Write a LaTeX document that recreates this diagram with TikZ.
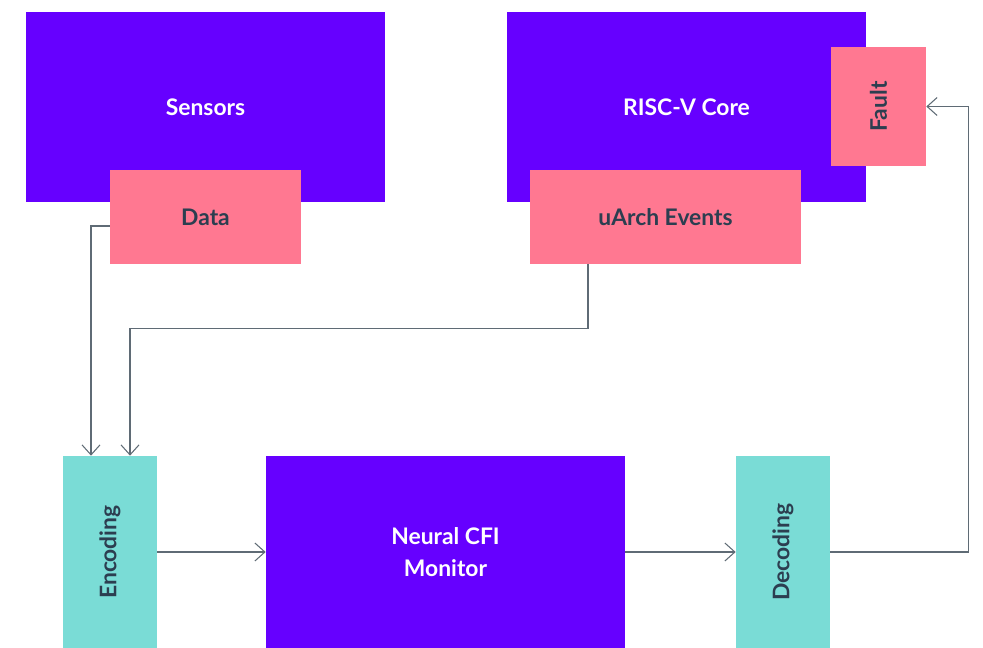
\documentclass[tikz,border=0pt]{standalone}
\usepackage{fontspec}
\setmainfont{Lato}
\usepackage{tikz}
\usetikzlibrary{arrows.meta,positioning,calc}
\definecolor{corepurple}{RGB}{102,0,255}
\definecolor{ifpink}{RGB}{255,120,145}
\definecolor{codecteal}{RGB}{122,220,214}
\definecolor{inkgray}{RGB}{44,62,80}
\definecolor{wiregray}{RGB}{95,107,117}

\begin{document}
\begin{tikzpicture}[x=0.02cm, y=-0.02cm, font=\fontsize{13}{16}\selectfont\bfseries]
  \tikzstyle{block} = [rectangle, fill=corepurple, text=white, minimum width=7.18cm, minimum height=3.8cm, align=center, inner sep=0pt]
  \tikzstyle{port} = [rectangle, fill=ifpink, text=inkgray, minimum height=1.88cm, align=center, inner sep=0pt]
  \tikzstyle{codec} = [rectangle, fill=codecteal, text=inkgray, minimum width=1.88cm, minimum height=3.84cm, inner sep=0pt]
  \tikzstyle{wire} = [draw=wiregray, line width=0.6pt, -{Straight Barb[length=0.2cm, width=0.36cm]}]

  \useasboundingbox (0,0) rectangle (983,648);

  % top row: sources
  \node[block] (sensors) at (205.5, 107) {Sensors};
  \node[port, minimum width=3.82cm] (data) at (205.5, 217) {Data};
  \node[block] (core) at (686.5, 107) {RISC-V Core};
  \node[port, minimum width=5.42cm] (uarch) at (665.5, 217) {uArch Events};
  \node[port, minimum width=1.9cm, minimum height=2.38cm] (fault) at (878.5, 106.5) {\rotatebox{90}{Fault}};

  % bottom row: monitor pipeline
  \node[codec] (enc) at (110, 552) {\rotatebox{90}{Encoding}};
  \node[block, minimum height=3.84cm] (cfi) at (445.5, 552) {Neural CFI\\[2pt]Monitor};
  \node[codec] (dec) at (783, 552) {\rotatebox{90}{Decoding}};

  % wiring
  \draw[wire] ([yshift=-0.18cm]data.west) -| ([xshift=-0.38cm]enc.north);
  \draw[wire] ([xshift=-1.55cm]uarch.south) -- ++(0,64) -| ([xshift=0.4cm]enc.north);
  \draw[wire] (enc.east) -- (cfi.west);
  \draw[wire] (cfi.east) -- (dec.west);
  \draw[wire] (dec.east) -- ++(138,0) |- (fault.east);
\end{tikzpicture}
\end{document}
